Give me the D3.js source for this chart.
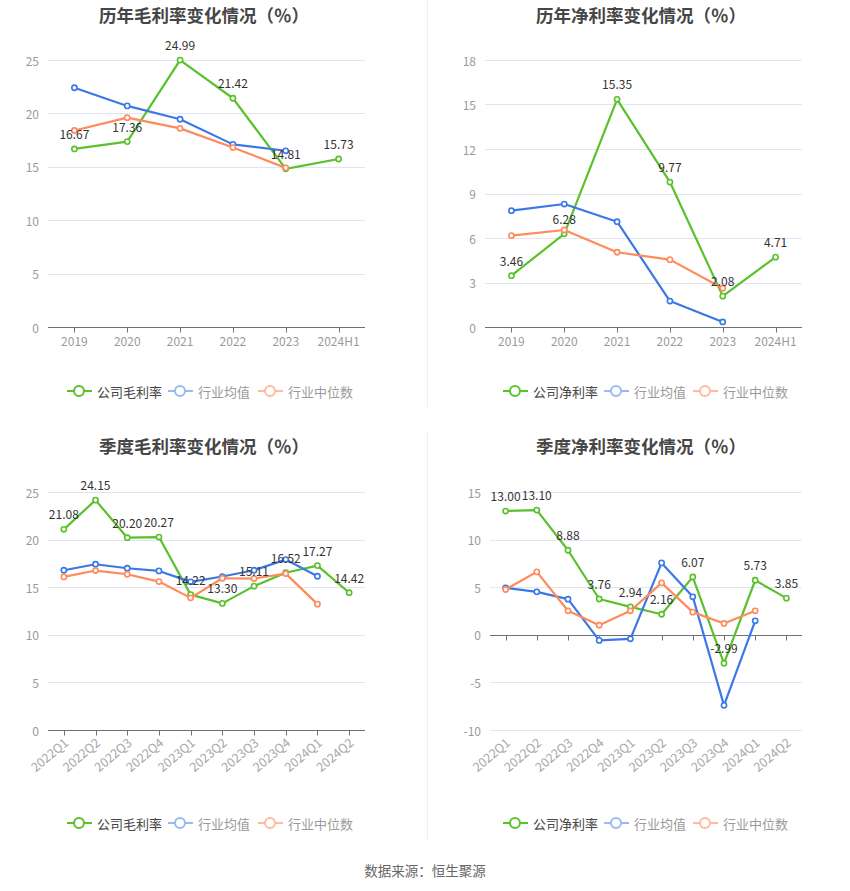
<!DOCTYPE html>
<html><head><meta charset="utf-8">
<script src="https://cdn.jsdelivr.net/npm/d3@7"></script>
<style>body{margin:0;background:#fff}svg{display:block;font-family:"Noto Sans CJK SC","Noto Sans",sans-serif}</style>
</head><body><svg id="c" width="850" height="891"></svg>
<script>
const yearCats = ["2019","2020","2021","2022","2023","2024H1"];
const quarterCats = ["2022Q1","2022Q2","2022Q3","2022Q4","2023Q1","2023Q2","2023Q3","2023Q4","2024Q1","2024Q2"];

const annualGrossCompany = [16.67,17.36,24.99,21.42,14.81,15.73];
const annualGrossMean = [22.4,20.7,19.45,17.1,16.5,null];
const annualGrossMedian = [18.4,19.6,18.6,16.8,14.9,null];

const annualNetCompany = [3.46,6.28,15.35,9.77,2.08,4.71];
const annualNetMean = [7.84,8.29,7.1,1.75,0.34,null];
const annualNetMedian = [6.16,6.54,5.04,4.54,2.61,null];

const qGrossCompany = [21.08,24.15,20.20,20.27,14.22,13.30,15.11,16.52,17.27,14.42];
const qGrossMean = [16.78,17.41,16.99,16.71,15.56,16.12,16.78,17.9,16.15,null];
const qGrossMedian = [16.08,16.75,16.36,15.59,13.88,15.94,15.91,16.43,13.22,null];

const qNetCompany = [13.00,13.10,8.88,3.76,2.94,2.16,6.07,-2.99,5.73,3.85];
const qNetMean = [4.93,4.51,3.74,-0.59,-0.42,7.55,3.99,-7.41,1.47,null];
const qNetMedian = [4.76,6.61,2.52,1.01,2.52,5.45,2.38,1.19,2.52,null];

const titles = ["历年毛利率变化情况（％）","历年净利率变化情况（％）","季度毛利率变化情况（％）","季度净利率变化情况（％）"];
const legendNames = [["公司毛利率","行业均值","行业中位数"],["公司净利率","行业均值","行业中位数"]];
const yTicks = [[0,5,10,15,20,25],[0,3,6,9,12,15,18],[0,5,10,15,20,25],[-10,-5,0,5,10,15]];
const source = "数据来源：恒生聚源";

const colors = ["#5ac12c","#3b78e7","#ff8a5b"];
const fadedColors = ["#5ac12c","#9ab8f2","#ffbca1"];

const svg = d3.select("#c");

svg.append("line").attr("x1",427.5).attr("x2",427.5).attr("y1",0).attr("y2",407).attr("stroke","#eeeeee");
svg.append("line").attr("x1",427.5).attr("x2",427.5).attr("y1",431).attr("y2",840).attr("stroke","#eeeeee");

const panels = [
  {cats:yearCats, series:[annualGrossCompany,annualGrossMean,annualGrossMedian], names:legendNames[0], ticks:yTicks[0], dom:[0,25], left:48,right:365,top:60,bottom:327, title:titles[0], tx:204, ty:14, legY:391, leg:[79,180,270], rot:false},
  {cats:yearCats, series:[annualNetCompany,annualNetMean,annualNetMedian], names:legendNames[1], ticks:yTicks[1], dom:[0,18], left:485,right:802,top:60,bottom:327, title:titles[1], tx:641, ty:14, legY:391, leg:[515,616,705], rot:false},
  {cats:quarterCats, series:[qGrossCompany,qGrossMean,qGrossMedian], names:legendNames[0], ticks:yTicks[2], dom:[0,25], left:48,right:365,top:492,bottom:730, title:titles[2], tx:204, ty:445, legY:823, leg:[79,180,270], rot:true},
  {cats:quarterCats, series:[qNetCompany,qNetMean,qNetMedian], names:legendNames[1], ticks:yTicks[3], dom:[-10,15], left:490,right:802,top:492,bottom:730, title:titles[3], tx:641, ty:445, legY:823, leg:[515,616,705], rot:true}
];

panels.forEach(p => {
  const g = svg.append("g");
  const x = d3.scaleBand().domain(p.cats).range([p.left,p.right]);
  const y = d3.scaleLinear().domain(p.dom).range([p.bottom,p.top]);
  const cx = c => x(c) + x.bandwidth()/2;

  g.append("text").attr("x",p.tx).attr("y",p.ty).attr("text-anchor","middle").attr("dominant-baseline","central")
    .attr("font-size",17.5).attr("font-weight","bold").attr("fill","#464646").text(p.title);

  p.ticks.forEach(t => {
    if (t !== 0) g.append("line").attr("x1",p.left).attr("x2",p.right).attr("y1",Math.round(y(t))+0.5).attr("y2",Math.round(y(t))+0.5).attr("stroke","#e0e6f1");
    g.append("text").attr("x",p.left-9).attr("y",y(t)).attr("text-anchor","end").attr("dominant-baseline","central")
      .attr("font-size",12).attr("fill","#9a9a9a").text(t);
  });
  const y0 = Math.round(y(0))+0.5;
  g.append("line").attr("x1",p.left).attr("x2",p.right).attr("y1",y0).attr("y2",y0).attr("stroke","#6e7079");
  p.cats.forEach(c => {
    const xx = Math.round(cx(c))+0.5;
    g.append("line").attr("x1",xx).attr("x2",xx).attr("y1",y0).attr("y2",y0+5).attr("stroke","#6e7079");
    if (p.rot) {
      g.append("text").attr("transform",`translate(${cx(c)+2},${p.bottom+10}) rotate(-40)`).attr("text-anchor","end")
        .attr("dominant-baseline","central").attr("font-size",12.5).attr("fill","#a8a8a8").text(c);
    } else {
      g.append("text").attr("x",cx(c)).attr("y",p.bottom+13).attr("text-anchor","middle").attr("dominant-baseline","central")
        .attr("font-size",12).attr("fill","#9a9a9a").text(c);
    }
  });

  const line = d3.line().defined(d => d.v !== null).x(d => cx(d.c)).y(d => y(d.v));
  p.series.forEach((s,i) => {
    const data = p.cats.map((c,j) => ({c, v:s[j]}));
    g.append("path").datum(data).attr("d",line).attr("fill","none").attr("stroke",colors[i]).attr("stroke-width",2.2).attr("stroke-linejoin","round");
    g.selectAll(null).data(data.filter(d => d.v !== null)).enter().append("circle")
      .attr("cx",d => cx(d.c)).attr("cy",d => y(d.v)).attr("r",2.6).attr("fill","#fff").attr("stroke",colors[i]).attr("stroke-width",1.6);
  });
  const comp = p.series[0];
  p.cats.forEach((c,j) => {
    if (comp[j] === null) return;
    g.append("text").attr("x",cx(c)).attr("y",y(comp[j])-10).attr("text-anchor","middle")
      .attr("font-size",12).attr("fill","#333").text(comp[j].toFixed(2));
  });

  p.names.forEach((n,i) => {
    const lx = p.leg[i];
    const col = fadedColors[i];
    g.append("line").attr("x1",lx-12).attr("x2",lx+13).attr("y1",p.legY).attr("y2",p.legY).attr("stroke",col).attr("stroke-width",2);
    g.append("circle").attr("cx",lx).attr("cy",p.legY).attr("r",5).attr("fill","#fff").attr("stroke",col).attr("stroke-width",2);
    g.append("text").attr("x",lx+18).attr("y",p.legY).attr("dominant-baseline","central").attr("font-size",13)
      .attr("fill", i===0 ? "#444" : "#9a9a9a").text(n);
  });
});

svg.append("text").attr("x",425).attr("y",870).attr("text-anchor","middle").attr("dominant-baseline","central")
  .attr("font-size",13.5).attr("fill","#666").text(source);
</script>
</body></html>
